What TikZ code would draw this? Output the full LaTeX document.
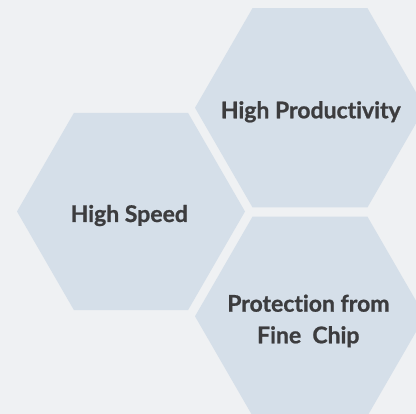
\documentclass[tikz,border=0pt]{standalone}
\usepackage{fontspec}
\setmainfont{Lato}[Ligatures=NoCommon,BoldFeatures={FakeBold=0.9}]
\usetikzlibrary{shapes.geometric}
\definecolor{bgc}{RGB}{239,241,243}
\definecolor{hexc}{RGB}{213,223,233}
\definecolor{txtc}{RGB}{60,60,62}
\tikzset{
  hexa/.style={regular polygon, regular polygon sides=6, fill=hexc, draw=none, inner sep=0pt, outer sep=0pt, minimum size=#1},
  lbl/.style={anchor=base, text=txtc, inner sep=0pt, font=\fontsize{23}{28}\selectfont\bfseries}
}
\begin{document}
\begin{tikzpicture}[x=1pt,y=1pt]
\fill[bgc] (0,0) rectangle (416,414);
\useasboundingbox (0,0) rectangle (416,414);
\node[hexa=228pt] (h1) at (131,202.5) {};
\node[hexa=230pt] (h2) at (310,306.2) {};
\node[hexa=230pt] (h3) at (310,97.7) {};
\node[lbl] (t1) at (129.3,192) {High Speed};
\node[lbl] (t2) at (310.8,295.7) {High Productivity};
\node[lbl] (t3) at (308.4,102.3) {Protection from};
\node[lbl] (t4) at (308.3,70.7) {Fine\ \ Chip};
\end{tikzpicture}
\end{document}
